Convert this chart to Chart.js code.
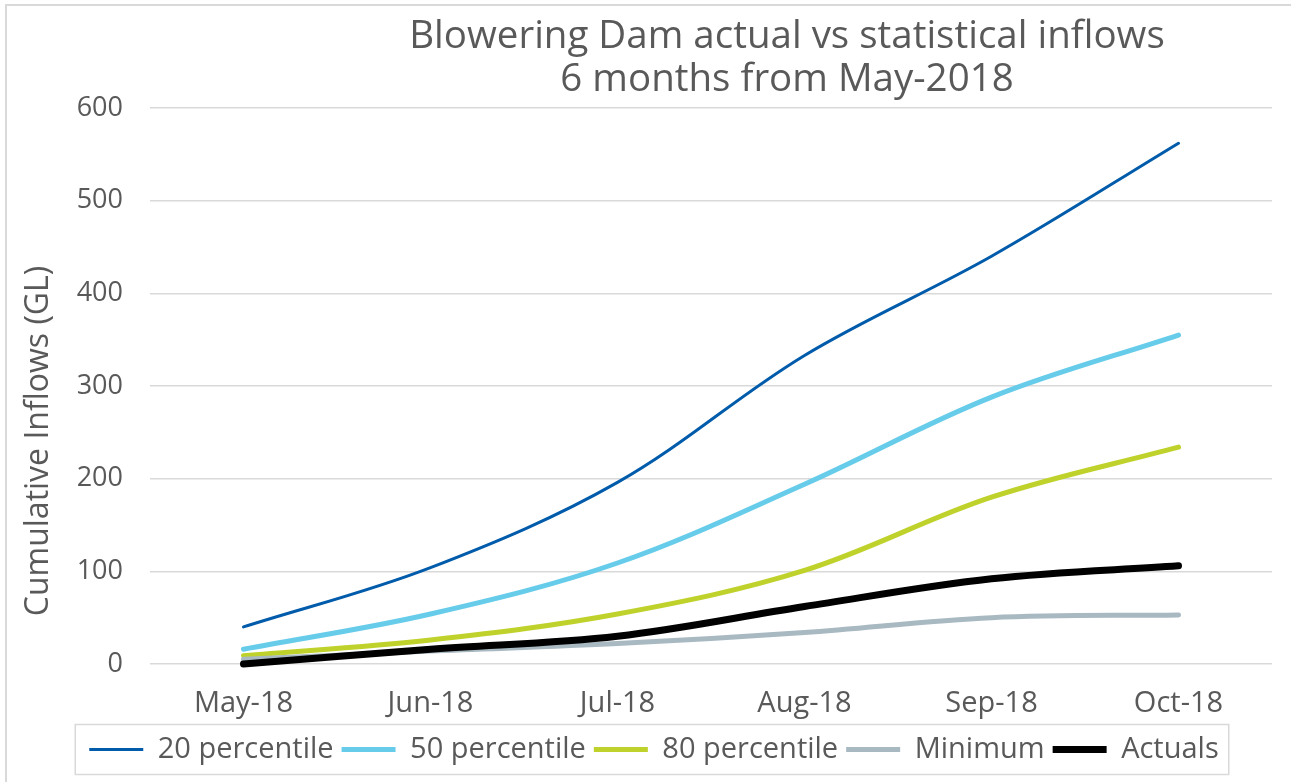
<!DOCTYPE html>
<html><head><meta charset="utf-8">
<script src="https://cdn.jsdelivr.net/npm/chart.js@4.4.0/dist/chart.umd.min.js"></script>
<style>html,body{margin:0;padding:0;background:#fff;overflow:hidden}
#wrap{position:relative;width:1291px;height:782px}</style>
</head><body><div id="wrap"><canvas id="c" width="1291" height="782"></canvas></div>
<script>
const categories = ['May-18','Jun-18','Jul-18','Aug-18','Sep-18','Oct-18'];
const p20 = [40, 104, 196, 333, 440, 562];
const p50 = [16, 54, 109, 194, 288, 355];
const p80 = [9, 26, 54, 101, 180, 234];
const minimum = [5, 14, 22, 34, 50, 53];
const actuals = [0, 16, 30, 62, 92, 106];
const yTicks = [0, 100, 200, 300, 400, 500, 600];
const seriesNames = ['20 percentile','50 percentile','80 percentile','Minimum','Actuals'];
const titleLines = ['Blowering Dam actual vs statistical inflows', '6 months from May-2018'];
const yTitle = 'Cumulative Inflows (GL)';

const FONT = "'Open Sans', sans-serif";
const GREY = '#595959';

const decor = {
  id: 'decor',
  afterDraw(chart) {
    const ctx = chart.ctx, ca = chart.chartArea;
    ctx.save();
    ctx.strokeStyle = '#d9d9d9'; ctx.lineWidth = 2;
    ctx.beginPath(); ctx.moveTo(6, chart.height); ctx.lineTo(6, 5); ctx.lineTo(chart.width, 5); ctx.stroke();
    ctx.fillStyle = GREY; ctx.textAlign = 'center'; ctx.textBaseline = 'middle';
    ctx.font = "38.5px " + FONT;
    const tx = ca.left + 637;
    ctx.fillText(titleLines[0], tx, 37);
    ctx.fillText(titleLines[1], tx, 80);
    ctx.save();
    ctx.font = "32px " + FONT;
    ctx.translate(39, 441); ctx.rotate(-Math.PI / 2);
    ctx.fillText(yTitle, 0, 0);
    ctx.restore();
    const hb = chart.legend.legendHitBoxes;
    if (hb && hb.length) {
      let l = Infinity, r = -Infinity, cy = 0;
      hb.forEach(b => { l = Math.min(l, b.left); r = Math.max(r, b.left + b.width); cy = b.top + b.height / 2; });
      ctx.strokeStyle = '#d9d9d9'; ctx.lineWidth = 1.5;
      ctx.strokeRect(l - 14, cy - 25, (r - l) + 24, 50);
    }
    ctx.restore();
  }
};

const colors = ['#005BAA', '#66CCEA', '#BFD22B', '#A9B9C2', '#000000'];
const widths = [3, 5, 5, 5, 7];
const values = [p20, p50, p80, minimum, actuals];
const orders = [5, 4, 3, 2, 1];

new Chart(document.getElementById('c'), {
  type: 'line',
  data: {
    labels: categories,
    datasets: values.map((v, i) => ({
      label: seriesNames[i],
      data: v,
      borderColor: colors[i],
      backgroundColor: colors[i],
      borderWidth: widths[i],
      borderCapStyle: 'round',
      borderJoinStyle: 'round',
      pointRadius: 0,
      pointStyle: 'line',
      tension: 0.35,
      clip: false,
      order: orders[i]
    }))
  },
  options: {
    responsive: false,
    animation: false,
    layout: { padding: { top: 108, right: 19, left: 36, bottom: 8 } },
    plugins: {
      title: { display: false },
      tooltip: { enabled: false },
      legend: {
        position: 'bottom',
        labels: {
          usePointStyle: true,
          pointStyleWidth: 54,
          color: GREY,
          font: { family: FONT, size: 29 },
          padding: 8,
          sort: (a, b) => a.datasetIndex - b.datasetIndex
        }
      }
    },
    scales: {
      x: {
        offset: true,
        grid: { display: false, drawTicks: false },
        border: { display: false },
        afterFit: axis => { axis.height = 63; },
        ticks: { color: GREY, font: { family: FONT, size: 29 }, padding: 22, maxRotation: 0 }
      },
      y: {
        min: 0, max: 600,
        afterBuildTicks: axis => { axis.ticks = yTicks.map(v => ({ value: v })); },
        afterFit: axis => { axis.width = 114; },
        grid: { color: '#d9d9d9', lineWidth: 1.5, drawTicks: false },
        border: { display: false },
        ticks: { color: GREY, font: { family: FONT, size: 27 }, padding: 27 }
      }
    }
  },
  plugins: [decor]
});
</script></body></html>
